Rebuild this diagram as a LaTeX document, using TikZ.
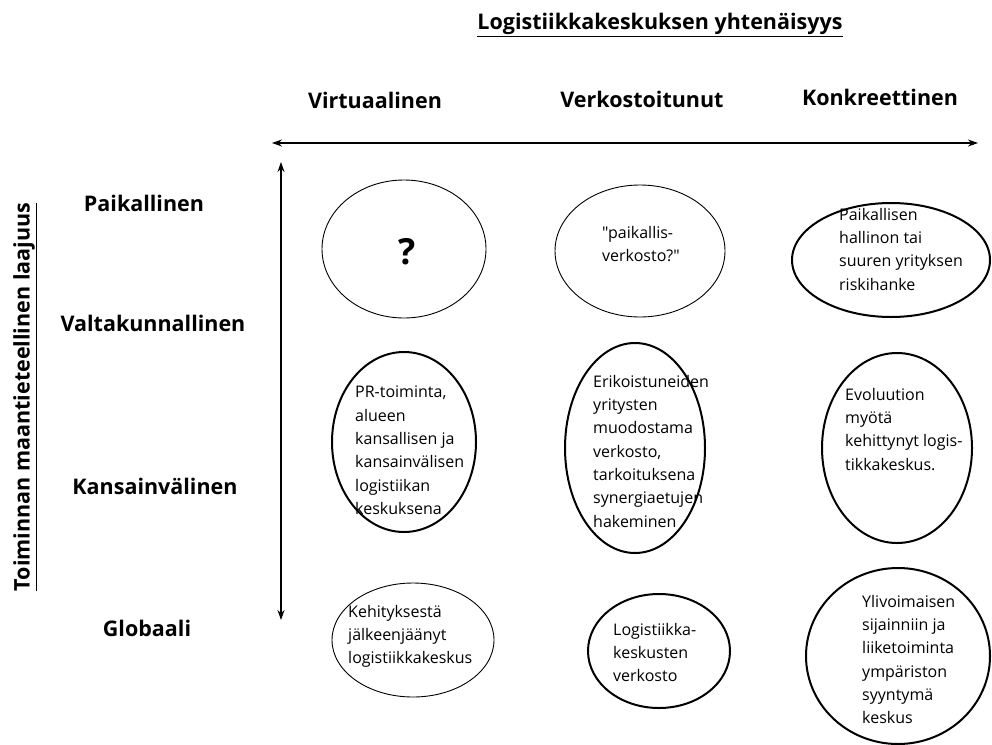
\documentclass[tikz,border=0pt]{standalone}
\usepackage{fontspec}
\setmainfont{Open Sans}[Ligatures=TeXOff]
\usetikzlibrary{shapes.geometric,arrows.meta}
\begin{document}
\begin{tikzpicture}[x=1pt,y=-1pt,
  ellthin/.style={draw, ellipse, line width=0.9pt, inner sep=0pt},
  ellthick/.style={draw, ellipse, line width=2pt, inner sep=0pt},
  lbl/.style={font=\fontsize{21.5}{26}\selectfont\bfseries, inner sep=0pt},
  txt/.style={font=\fontsize{16}{23.3}\selectfont, align=left, anchor=north west, inner sep=0pt},
  axis/.style={line width=1.1pt, {Stealth[length=10pt,width=7pt]}-{Stealth[length=10pt,width=7pt]}}
]
\useasboundingbox (0,0) rectangle (992,744);
% title and labels
\node[lbl] (title) at (660,25) {\underline{Logistiikkakeskuksen yhtenäisyys}};
\node[lbl] (c1) at (375,100) {Virtuaalinen};
\node[lbl] (c2) at (642,99) {Verkostoitunut};
\node[lbl] (c3) at (880,97) {Konkreettinen};
\node[lbl] (r1) at (144,203) {Paikallinen};
\node[lbl] (r2) at (153,323) {Valtakunnallinen};
\node[lbl] (r3) at (155,486) {Kansainvälinen};
\node[lbl] (r4) at (147,628) {Globaali};
\node[lbl, rotate=90] (vl) at (25,397) {\underline{Toiminnan maantieteellinen laajuus}};
% axes
\coordinate (hl) at (272,143);
\coordinate (hr) at (978,143);
\coordinate (vt) at (281,162);
\coordinate (vb) at (281,620);
\draw[axis] (hl) -- (hr);
\draw[axis] (vt) -- (vb);
% ellipses
\node[ellthin, minimum width=164pt, minimum height=138pt] (e1) at (404,249) {};
\node[ellthin, minimum width=170pt, minimum height=132pt] (e2) at (640,251) {};
\node[ellthick, minimum width=198pt, minimum height=114pt] (e3) at (891,260) {};
\node[ellthick, minimum width=144pt, minimum height=180pt] (e4) at (404,442) {};
\node[ellthick, minimum width=140pt, minimum height=210pt] (e5) at (635,448) {};
\node[ellthick, minimum width=150pt, minimum height=190pt] (e6) at (897,448) {};
\node[ellthin, minimum width=162pt, minimum height=114pt] (e7) at (413,640) {};
\node[ellthick, minimum width=142pt, minimum height=114pt] (e8) at (659,651) {};
\node[ellthick, minimum width=184pt, minimum height=176pt] (e9) at (898,656) {};
% texts
\node[font=\fontsize{36}{40}\selectfont\bfseries, inner sep=0pt] (t1) at (407,252) {?};
\node[txt] (t2) at (602,226) {"paikallis-\\verkosto?"};
\node[txt] (t3) at (839,208) {Paikallisen\\hallinon tai\\suuren yrityksen\\riskihanke};
\node[txt] (t4) at (355,386) {PR-toiminta,\\alueen\\kansallisen ja\\kansainvälisen\\logistiikan\\keskuksena};
\node[txt] (t5) at (593,375) {Erikoistuneiden\\yritysten\\muodostama\\verkosto,\\tarkoituksena\\synergiaetujen\\hakeminen};
\node[txt] (t6) at (845,388) {Evoluution\\myötä\\kehittynyt logis-\\tikkakeskus.};
\node[txt] (t7) at (348,605) {Kehityksestä\\jälkeenjäänyt\\logistiikkakeskus};
\node[txt] (t8) at (613,623) {Logistiikka-\\keskusten\\verkosto};
\node[txt] (t9) at (862,595) {Ylivoimaisen\\sijainniin ja\\liiketoiminta\\ympäriston\\syyntymä\\keskus};
\end{tikzpicture}
\end{document}
